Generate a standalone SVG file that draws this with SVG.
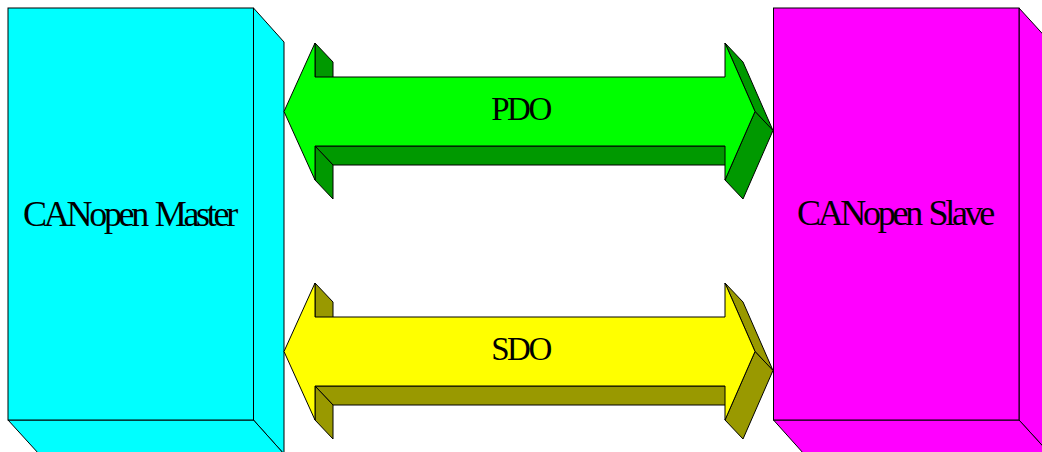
<svg xmlns="http://www.w3.org/2000/svg" width="1042" height="452" viewBox="0 0 1042 452">
  <style>
    .edge { stroke: #000; stroke-width: 1; stroke-linejoin: miter; }
    .cyan { fill: #00ffff; }
    .magenta { fill: #ff00ff; }
    .green { fill: #00ff00; }
    .green-side { fill: #009900; }
    .yellow { fill: #ffff00; }
    .yellow-side { fill: #999900; }
    .label { font-family: "Liberation Serif", "Times New Roman", serif; fill: #000; text-anchor: middle; }
    .big { font-size: 36px; letter-spacing: -3.3px; word-spacing: 3px; }
    .small { font-size: 33px; letter-spacing: -2.5px; }
  </style>
  <defs>
    <!-- double-headed block arrow, extruded towards lower right;
         side faces listed back to front so overlaps hide correctly -->
    <g id="arrow-sides">
      <polygon points="725,146 315,146 333,165 743,165"/>
      <polygon points="315,146 315,180 333,199 333,165"/>
      <polygon points="315,43 315,77 333,96 333,62"/>
      <polygon points="725,43 755,111.5 773,130.5 743,62"/>
      <polygon points="755,111.5 725,180 743,199 773,130.5"/>
    </g>
    <polygon id="arrow-front" points="284,111.5 315,43 315,77 725,77 725,43 755,111.5 725,180 725,146 315,146 315,180"/>
  </defs>

  <rect width="1042" height="452" fill="#ffffff"/>

  <!-- CANopen Master box -->
  <g id="master">
    <polygon class="cyan edge" points="253.5,8 284,42 284,454 253.5,420"/>
    <polygon class="cyan edge" points="8,420 253.5,420 284,454 39,454"/>
    <rect class="cyan edge" x="8" y="8" width="245.5" height="412"/>
    <text class="label big" x="129" y="225.5">CANopen Master</text>
  </g>

  <!-- CANopen Slave box -->
  <g id="slave">
    <polygon class="magenta edge" points="1019,8 1050,42 1050,454 1019,420"/>
    <polygon class="magenta edge" points="773.5,420 1019,420 1050,454 804,454"/>
    <rect class="magenta edge" x="773.5" y="8" width="245.5" height="412"/>
    <text class="label big" x="894.5" y="225">CANopen Slave</text>
  </g>

  <g id="connectors">
    <!-- PDO -->
    <g id="pdo">
      <use href="#arrow-sides" class="green-side edge"/>
      <use href="#arrow-front" class="green edge"/>
      <text class="label small" x="520.5" y="120">PDO</text>
    </g>
    <!-- SDO -->
    <g id="sdo" transform="translate(0,240)">
      <use href="#arrow-sides" class="yellow-side edge"/>
      <use href="#arrow-front" class="yellow edge"/>
      <text class="label small" x="520.5" y="120">SDO</text>
    </g>
  </g>
</svg>
